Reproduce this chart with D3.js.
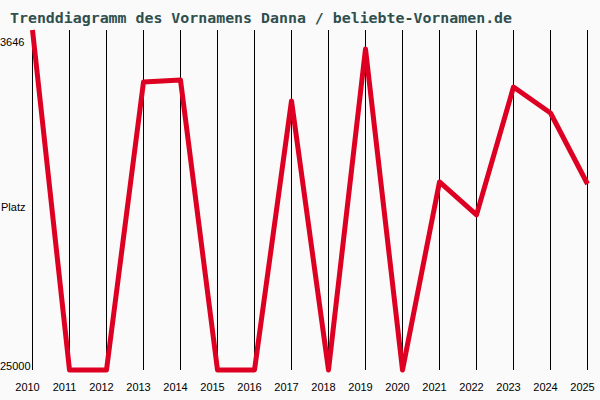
<!DOCTYPE html>
<html>
<head>
<meta charset="utf-8">
<script src="https://cdn.jsdelivr.net/npm/d3@7"></script>
<style>
  body { margin: 0; background: #fafafa; }
  svg { display: block; }
</style>
</head>
<body>
<svg id="chart" width="600" height="400"></svg>
<script>
// Platz je Jahr (kleiner = beliebter)
const years = [2010, 2011, 2012, 2013, 2014, 2015, 2016, 2017, 2018, 2019, 2020, 2021, 2022, 2023, 2024, 2025];
const ranks = [3646, 25000, 25000, 6910, 6790, 25000, 25000, 8100, 25000, 4840, 25000, 13190, 15260, 7230, 8860, 13320];
const rankLabels = ["3646", "25000"];
const title = "Trenddiagramm des Vornamens Danna / beliebte-Vornamen.de";

const svg = d3.select("#chart");
svg.append("rect").attr("width", 600).attr("height", 400).attr("fill", "#fafafa");

const x = d3.scaleLinear().domain([2010, 2025]).range([32, 587]);
const y = d3.scaleLinear().domain([3646, 25000]).range([30, 370]);

const labelFont = "Liberation Sans";

// title
svg.append("text")
  .attr("x", 10).attr("y", 23)
  .attr("font-family", "DejaVu Sans Mono")
  .attr("font-weight", "bold")
  .attr("font-size", "14.9px")
  .attr("fill", "#2f4f4f")
  .text(title);

// vertical grid lines via axis
const xAxis = d3.axisBottom(x)
  .tickValues(years)
  .tickSize(-(y.range()[1] - y.range()[0]))
  .tickFormat(d3.format("d"));

const gx = svg.append("g")
  .attr("transform", "translate(0," + y.range()[1] + ")")
  .call(xAxis);
gx.select(".domain").remove();
gx.selectAll(".tick line").attr("stroke", "#000").attr("stroke-width", 1);
gx.selectAll(".tick text")
  .attr("y", 21).attr("dy", 0).attr("x", -5)
  .attr("font-family", labelFont)
  .attr("font-size", "11px")
  .attr("fill", "#000");

// y labels
svg.append("text").attr("x", 0).attr("y", 46)
  .attr("font-family", labelFont).attr("font-size", "11px").text(rankLabels[0]);
svg.append("text").attr("x", 0).attr("y", 370)
  .attr("font-family", labelFont).attr("font-size", "11px").text(rankLabels[1]);
svg.append("text").attr("x", 1).attr("y", 211)
  .attr("font-family", labelFont).attr("font-size", "11px").text("Platz");

// trend line
const line = d3.line()
  .x((d, i) => x(years[i]) + 0.5)
  .y(d => y(d));

svg.append("path")
  .datum(ranks)
  .attr("d", line)
  .attr("fill", "none")
  .attr("stroke", "#dd0022")
  .attr("stroke-width", 5)
  .attr("stroke-linejoin", "round");
</script>
</body>
</html>
